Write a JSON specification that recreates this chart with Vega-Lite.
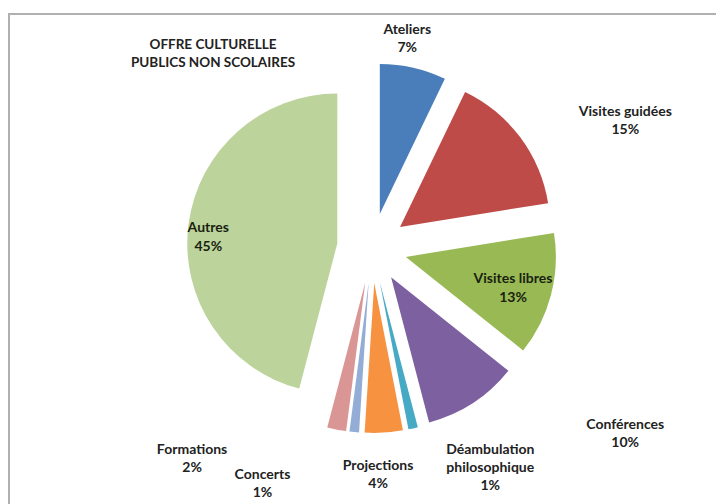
{
  "$schema": "https://vega.github.io/schema/vega-lite/v6.json",
  "width": 707,
  "height": 490,
  "autosize": "none",
  "padding": {"left": 9, "top": 14, "right": 0, "bottom": 0},
  "background": "white",
  "config": {"view": {"stroke": null}, "font": "Lato"},
  "title": {
    "text": ["OFFRE CULTURELLE", "PUBLICS NON SCOLAIRES"],
    "orient": "top", "anchor": "start", "align": "center", "baseline": "top",
    "frame": "group", "offset": 0, "dx": 204, "dy": 56,
    "fontSize": 13.5, "fontWeight": "bold", "lineHeight": 18, "font": "Lato", "color": "#222222"
  },
  "data": {
    "values": [
      {"name": "Ateliers", "label": "Ateliers", "pct": 7},
      {"name": "Visites guidées", "label": "Visites guidées", "pct": 15},
      {"name": "Visites libres", "label": "Visites libres", "pct": 13},
      {"name": "Conférences", "label": "Conférences", "pct": 10},
      {"name": "Déambulation philosophique", "label": "Déambulation\nphilosophique", "pct": 1},
      {"name": "Projections", "label": "Projections", "pct": 4},
      {"name": "Concerts", "label": "Concerts", "pct": 1},
      {"name": "Formations", "label": "Formations", "pct": 2},
      {"name": "Autres", "label": "Autres", "pct": 45}
    ]
  },
  "transform": [
    {"window": [{"op": "sum", "field": "pct", "as": "cum"}], "frame": [null, 0]},
    {"joinaggregate": [{"op": "sum", "field": "pct", "as": "total"}]},
    {"calculate": "datum.cum - datum.pct", "as": "start"},
    {"calculate": "(datum.start + datum.cum) / 2", "as": "mid"},
    {"calculate": "datum.label + '\\n' + datum.pct + '%'", "as": "txt"}
  ],
  "layer": [
    {
      "data": {"values": [{"frame": "border"}]},
      "mark": {"type": "rect", "fillOpacity": 0, "stroke": "#b0b0b0", "strokeWidth": 2, "strokeDash": [707, 1197, 490, 10]}
    },
    {
      "mark": {
        "type": "arc", "outerRadius": 150,
        "xOffset": {"expr": "9.5 + 35*sin(PI*(datum.start+datum.cum)/datum.total)"},
        "yOffset": {"expr": "-11 - 35*cos(PI*(datum.start+datum.cum)/datum.total)"}
      },
      "encoding": {
        "theta": {"field": "start", "type": "quantitative", "scale": {"domain": [0, 98]}},
        "theta2": {"field": "cum"},
        "color": {
          "field": "name", "type": "nominal", "legend": null,
          "scale": {
            "domain": ["Ateliers", "Visites guidées", "Visites libres", "Conférences", "Déambulation philosophique", "Projections", "Concerts", "Formations", "Autres"],
            "range": ["#4A7EBB", "#BE4B48", "#98B954", "#7D60A0", "#46AAC5", "#F69240", "#93ADD6", "#DA9694", "#BCD39B"]
          }
        }
      }
    },
    {
      "transform": [{"filter": "datum.name === 'Autres' || datum.name === 'Visites libres'"}],
      "mark": {
        "type": "text", "radius": 118, "fontSize": 14, "fontWeight": "bold", "lineBreak": "\n", "lineHeight": 19,
        "align": "center", "baseline": "middle", "color": "#1a1f10",
        "xOffset": {"expr": "9.5 + 35*sin(PI*(datum.start+datum.cum)/datum.total)"},
        "yOffset": {"expr": "-11 - 35*cos(PI*(datum.start+datum.cum)/datum.total)"},
        "dx": {"expr": "datum.name === 'Autres' ? -12 : -7"},
        "dy": {"expr": "datum.name === 'Autres' ? 0 : -8"}
      },
      "encoding": {
        "theta": {"field": "mid", "type": "quantitative"},
        "text": {"field": "txt"}
      }
    },
    {
      "transform": [{"filter": "datum.name !== 'Autres' && datum.name !== 'Visites libres'"}],
      "mark": {
        "type": "text", "radius": 200, "fontSize": 14, "fontWeight": "bold", "lineBreak": "\n", "lineHeight": 18,
        "align": "center", "baseline": "middle", "color": "#222222",
        "xOffset": {"expr": "9.5 + 35*sin(PI*(datum.start+datum.cum)/datum.total)"},
        "yOffset": {"expr": "-11 - 35*cos(PI*(datum.start+datum.cum)/datum.total)"},
        "dx": {"expr": "datum.name === 'Ateliers' ? -17 : datum.name === 'Visites guidées' ? 65 : datum.name === 'Conférences' ? 125 : datum.name === 'Déambulation philosophique' ? 66 : datum.name === 'Projections' ? -9 : datum.name === 'Concerts' ? -87 : datum.name === 'Formations' ? -135 : 0"},
        "dy": {"expr": "datum.name === 'Ateliers' ? 11 : datum.name === 'Visites guidées' ? 5 : datum.name === 'Conférences' ? -20 : datum.name === 'Déambulation philosophique' ? -27 : datum.name === 'Projections' ? -17 : datum.name === 'Concerts' ? -7 : datum.name === 'Formations' ? -29 : 0"}
      },
      "encoding": {
        "theta": {"field": "mid", "type": "quantitative"},
        "text": {"field": "txt"}
      }
    }
  ]
}
